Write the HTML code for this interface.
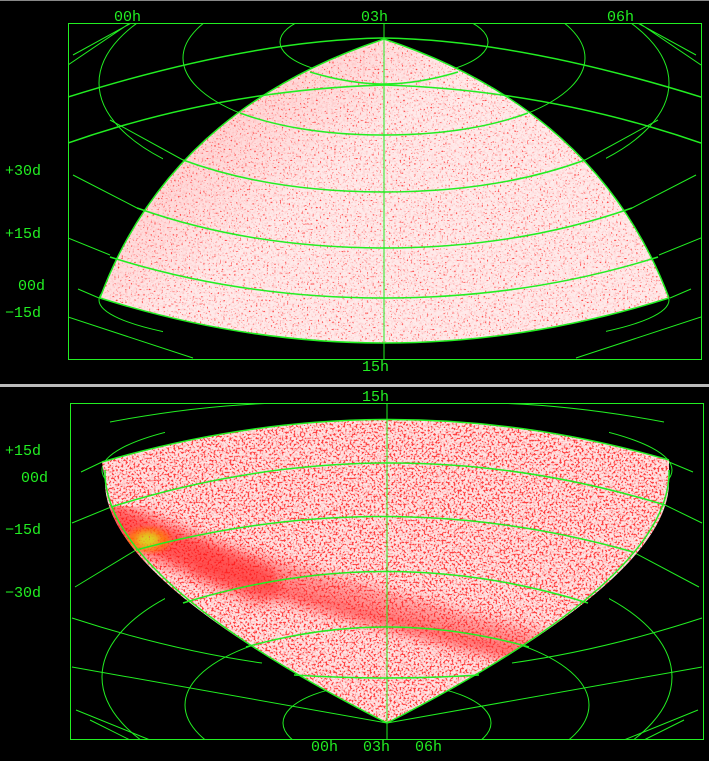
<!DOCTYPE html>
<html><head><meta charset="utf-8"><style>
html,body{margin:0;padding:0;background:#000;width:709px;height:761px;overflow:hidden;}
svg{display:block}
text{font-family:"Liberation Mono","DejaVu Sans Mono",monospace;font-size:15px;fill:#22ee22;}
</style></head><body>
<svg width="709" height="761" viewBox="0 0 709 761" xmlns="http://www.w3.org/2000/svg">
<defs>
<filter id="spk" x="0" y="0" width="100%" height="100%">
<feTurbulence type="fractalNoise" baseFrequency="0.55" numOctaves="1" seed="3"/>
<feColorMatrix type="matrix" values="0 0 0 0 1  0 0 0 0 0.05  0 0 0 0 0.05  7 0 0 0 -4.3"/>
</filter>
<filter id="spk2" x="0" y="0" width="100%" height="100%">
<feTurbulence type="fractalNoise" baseFrequency="0.5" numOctaves="1" seed="7"/>
<feColorMatrix type="matrix" values="0 0 0 0 1  0 0 0 0 0.05  0 0 0 0 0.05  7 0 0 0 -3.6"/>
</filter>
<filter id="pinkn" x="0" y="0" width="100%" height="100%">
<feTurbulence type="fractalNoise" baseFrequency="0.35" numOctaves="2" seed="11"/>
<feColorMatrix type="matrix" values="0 0 0 0 1  0 0 0 0 0.5  0 0 0 0 0.5  3 0 0 0 -1.4"/>
</filter>
<filter id="blur"><feGaussianBlur stdDeviation="6"/></filter>
<filter id="blur2"><feGaussianBlur stdDeviation="3"/></filter>
<clipPath id="c1"><path d="M384,39 Q170,110 100,298 Q384,388 669,298 Q598,110 384,39Z"/></clipPath>
<clipPath id="c2"><path d="M102,462 Q387,378 669,460 L669,480 Q672,578 387,723 Q102,578 105,480 Z"/></clipPath>
<linearGradient id="g1" x1="0" y1="0" x2="1" y2="0.6"><stop offset="0" stop-color="#ff3030" stop-opacity="0.3"/><stop offset="0.5" stop-color="#ff3030" stop-opacity="0"/></linearGradient>
<clipPath id="r1"><rect x="68" y="23" width="633" height="337"/></clipPath>
<clipPath id="r2"><rect x="70" y="403" width="634" height="337"/></clipPath>
<clipPath id="side1"><rect x="68" y="23" width="95" height="337"/><rect x="606" y="23" width="95" height="337"/></clipPath>
<clipPath id="side2"><rect x="70" y="403" width="95" height="337"/><rect x="609" y="403" width="95" height="337"/></clipPath>
</defs>

<rect x="0" y="0" width="709" height="1" fill="#888"/>
<rect x="0" y="384" width="709" height="3" fill="#bbb"/>

<!-- TOP PANEL -->
<g clip-path="url(#r1)" fill="none" stroke="#22ee22" stroke-width="1">
<ellipse cx="384" cy="42" rx="104" ry="36"/>
<ellipse cx="384" cy="58" rx="201" ry="79"/>
<path d="M68,65 L130,23 M73,55 L135,21 M701,65 L639,23 M696,55 L634,21"/>
<path d="M68,238 L110,255 M78,289 L99,298 M68,317 L193,358 M701,238 L659,255 M691,289 L670,298 M701,317 L576,358"/>
<path d="M73,175 L137,208 M696,175 L632,208 M110,120 L183,160 M658,120 L585,160"/>
</g>
<g clip-path="url(#side1)" fill="none" stroke="#22ee22" stroke-width="1">
<ellipse cx="384" cy="83" rx="285" ry="120"/>
<ellipse cx="384" cy="300" rx="285" ry="50"/>
</g>
<g clip-path="url(#c1)">
<rect x="60" y="30" width="650" height="330" fill="#ffeaea"/>
<rect x="60" y="30" width="650" height="330" filter="url(#pinkn)" opacity="0.5"/>
<rect x="60" y="30" width="650" height="330" fill="url(#g1)"/>
<rect x="60" y="30" width="650" height="330" filter="url(#spk)"/>
</g>
<g clip-path="url(#r1)" fill="none" stroke="#22ee22">
<path stroke-width="1.5" d="M68,97 Q250,40 384,38 Q518,40 701,97"/>
<path stroke-width="1.5" d="M68,143 Q220,90 384,85 Q548,90 701,143"/>
<path stroke-width="1.5" d="M310,72 Q350,84 384,84 Q418,84 458,72"/>
<path stroke-width="1.5" d="M240,113 Q300,135 384,135 Q468,135 528,113"/>
<path stroke-width="1.5" d="M183,160 Q270,192 384,192 Q498,192 585,160"/>
<path stroke-width="1.5" d="M137,208 Q250,248 384,248 Q518,248 632,208"/>
<path stroke-width="1.5" d="M110,257 Q240,298 384,298 Q528,298 658,257"/>
<path stroke-width="1.5" d="M100,298 Q384,388 669,298"/>
<path stroke-width="1.5" d="M384,39 Q170,110 100,298 M384,39 Q598,110 669,298"/>
<line x1="384" y1="23" x2="384" y2="360" stroke-width="1"/>
</g>
<rect x="68.5" y="23.5" width="633" height="336" fill="none" stroke="#22ee22" stroke-width="1"/>
<text x="114" y="21">00h</text>
<text x="361" y="21">03h</text>
<text x="607" y="21">06h</text>
<text x="362" y="371">15h</text>
<text x="5" y="175">+30d</text>
<text x="5" y="238">+15d</text>
<text x="18" y="290">00d</text>
<text x="5" y="317">−15d</text>

<!-- BOTTOM PANEL -->
<g clip-path="url(#r2)" fill="none" stroke="#22ee22" stroke-width="1">
<ellipse cx="387" cy="723" rx="104" ry="40"/>
<ellipse cx="387" cy="705" rx="202" ry="80"/>
<path d="M81,472 L102,462 M72,523 L111,507 M75,587 L136,550 M72,618 Q170,650 262,663 M72,667 Q200,690 387,723 M76,710 L150,740 M90,720 L130,740"/>
<path d="M693,472 L669,462 M702,523 L665,505 M699,587 L633,552 M702,618 Q604,650 512,663 M702,667 Q574,690 387,723 M698,710 L624,740 M684,720 L644,740"/>
<path d="M110,422 Q200,405 280,403 M664,422 Q574,405 494,403"/>
</g>
<g clip-path="url(#side2)" fill="none" stroke="#22ee22" stroke-width="1">
<ellipse cx="387" cy="677" rx="285" ry="125"/>
<ellipse cx="387" cy="470" rx="285" ry="60"/>
</g>
<g clip-path="url(#c2)">
<rect x="95" y="410" width="580" height="320" fill="#ffe6e6"/>
<rect x="95" y="410" width="580" height="320" filter="url(#pinkn)" opacity="0.6"/>
<rect x="95" y="410" width="580" height="320" filter="url(#spk2)"/>
<g filter="url(#blur)" fill="none" stroke-linecap="round">
<path d="M110,525 Q300,590 540,650" stroke="#ff2020" stroke-width="34" opacity="0.4"/>
<path d="M115,520 Q200,560 260,585" stroke="#ff1010" stroke-width="40" opacity="0.45"/>
<path d="M200,570 Q350,615 520,655" stroke="#ff3030" stroke-width="16" opacity="0.4"/>
</g>
<g filter="url(#blur2)">
<ellipse cx="148" cy="540" rx="22" ry="12" fill="#ff8000" opacity="0.7"/>
<ellipse cx="148" cy="540" rx="11" ry="7" fill="#d8e020" opacity="0.85"/>
</g>
<rect x="95" y="410" width="580" height="320" filter="url(#spk)" opacity="0.7"/>
</g>
<g clip-path="url(#r2)" fill="none" stroke="#22ee22" stroke-width="1.5">
<path d="M102,462 Q387,378 669,460"/>
<path d="M111,507 Q387,420 665,505"/>
<path d="M136,550 Q387,482 633,552"/>
<path d="M183,603 Q387,540 588,603"/>
<path d="M246,647 Q387,607 529,647"/>
<path d="M294,675 Q387,681 479,675"/>
<path d="M669,470 Q672,578 387,723 Q102,578 105,470"/>
<line x1="387" y1="403" x2="387" y2="740" stroke-width="1"/>
</g>
<rect x="70.5" y="403.5" width="633" height="336" fill="none" stroke="#22ee22" stroke-width="1"/>
<text x="362" y="401">15h</text>
<text x="5" y="455">+15d</text>
<text x="21" y="482">00d</text>
<text x="5" y="534">−15d</text>
<text x="5" y="597">−30d</text>
<text x="311" y="751">00h</text>
<text x="363" y="751">03h</text>
<text x="415" y="751">06h</text>
</svg>
</body></html>
